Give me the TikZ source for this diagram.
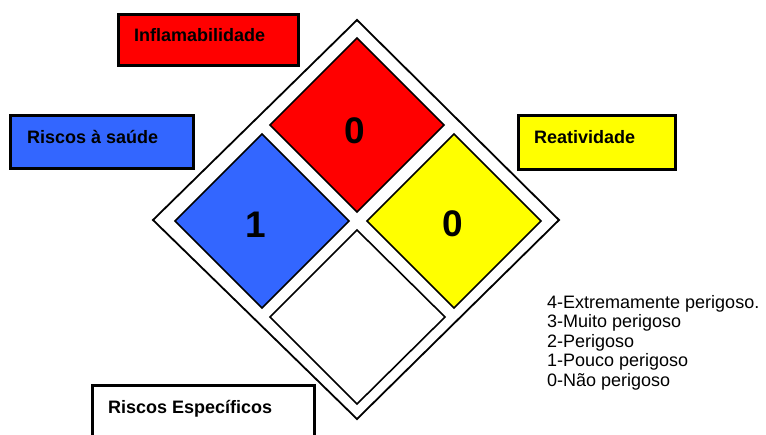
\documentclass[tikz,border=0pt]{standalone}
\usepackage{fontspec}
\setmainfont{Liberation Sans}
\definecolor{nfpared}{RGB}{255,0,0}
\definecolor{nfpablue}{RGB}{51,102,255}
\definecolor{nfpayellow}{RGB}{255,255,0}
\begin{document}
\begin{tikzpicture}[x=1pt,y=-1pt,
  labelbox/.style={draw=black,line width=3.4pt},
  labeltext/.style={anchor=base west,inner sep=0pt,font=\fontsize{18}{20}\selectfont\bfseries},
  legendtext/.style={anchor=base west,inner sep=0pt,font=\fontsize{18}{20}\selectfont},
  cell/.style={draw=black,line width=1.6pt},
  digit/.style={anchor=base,inner sep=0pt,font=\fontsize{37}{40}\selectfont\bfseries}]
\useasboundingbox (0,0) rectangle (766,434);
\fill[white] (0,0) rectangle (766,434);
% outer diamond
\coordinate (ot) at (357,20);
\coordinate (or) at (559,220);
\coordinate (ob) at (357,419);
\coordinate (ol) at (153,220);
\draw[line width=1.8pt,fill=white,line join=miter] (ot) -- (or) -- (ob) -- (ol) -- cycle;
% inner diamonds
\draw[cell,fill=nfpared] (357,38) -- (444,125) -- (357,212) -- (270,125) -- cycle;
\draw[cell,fill=nfpablue] (262,134) -- (349,221) -- (262,308) -- (175,221) -- cycle;
\draw[cell,fill=nfpayellow] (454,134) -- (541,221) -- (454,308) -- (367,221) -- cycle;
\draw[cell,fill=white] (357,230) -- (445,317) -- (357,404) -- (270,317) -- cycle;
% digits
\node[digit] (dred) at (355,143) {0};
\node[digit] (dblue) at (256,237) {1};
\node[digit] (dyellow) at (453,236) {0};
% label boxes
\draw[labelbox,fill=nfpared] (118.7,14.7) rectangle (298.3,65.3);
\node[labeltext] (tinf) at (134,41) {Inflamabilidade};
\draw[labelbox,fill=nfpablue] (10.7,115.7) rectangle (193.3,168.3);
\node[labeltext] (tsau) at (27,143) {Riscos à saúde};
\draw[labelbox,fill=nfpayellow] (518.7,115.7) rectangle (675.3,169.3);
\node[labeltext] (trea) at (534,143) {Reatividade};
\begin{scope}
\clip (0,0) rectangle (766,434);
\draw[labelbox,fill=white] (92.7,385.7) rectangle (314.3,450);
\end{scope}
\node[labeltext] (tesp) at (108,413) {Riscos Específicos};
% legend
\node[legendtext] (l4) at (547,308) {4-Extremamente perigoso.};
\node[legendtext] (l3) at (547,327.5) {3-Muito perigoso};
\node[legendtext] (l2) at (547,347) {2-Perigoso};
\node[legendtext] (l1) at (547,366.5) {1-Pouco perigoso};
\node[legendtext] (l0) at (547,386) {0-Não perigoso};
\end{tikzpicture}
\end{document}
